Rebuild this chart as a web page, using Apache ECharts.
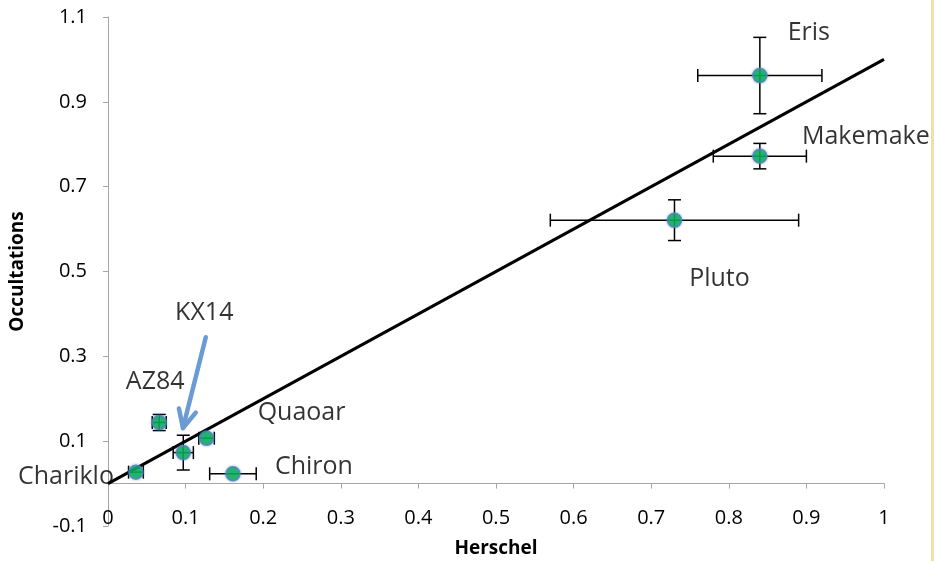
<!DOCTYPE html>
<html>
<head>
<meta charset="utf-8">
<script src="https://cdn.jsdelivr.net/npm/echarts@6/dist/echarts.min.js"></script>
<style>
  html, body { margin: 0; padding: 0; background: #fff; }
  #chart { width: 934px; height: 561px; }
</style>
</head>
<body>
<div id="chart"></div>
<script>
// Albedo comparison: Herschel thermal vs. stellar occultation results
const names = ['Eris', 'Makemake', 'Pluto', 'Chariklo', 'AZ84', 'KX14', 'Quaoar', 'Chiron'];
const herschel = [0.84, 0.84, 0.73, 0.036, 0.066, 0.097, 0.127, 0.161];
const occultations = [0.962, 0.772, 0.621, 0.027, 0.144, 0.073, 0.107, 0.023];
const herschelErr = [0.08, 0.06, 0.16, 0.0095, 0.009, 0.013, 0.01, 0.03];
const occultationsErr = [0.09, 0.03, 0.048, 0, 0.019, 0.041, 0, 0];

// one-to-one reference line
const fitX = [0, 1];
const fitY = [0, 1];

// pointer toward KX14
const arrowFrom = [0.126, 0.345];
const arrowTo = [0.0966, 0.131];

const xTicks = [0, 0.1, 0.2, 0.3, 0.4, 0.5, 0.6, 0.7, 0.8, 0.9, 1];
const yTicks = [-0.1, 0.1, 0.3, 0.5, 0.7, 0.9, 1.1];

// where each name sits relative to its marker, in pixels
const labelOffsets = {
  Eris: [49, -43],
  Makemake: [106, -19],
  Pluto: [45, 59],
  Chariklo: [-70, 5],
  AZ84: [-4, -41],
  KX14: [21, -140],
  Quaoar: [95, -25],
  Chiron: [81, -7]
};

const FONT = 'Open Sans';

// plot area
const GRID = { left: 108, right: 50, top: 17, bottom: 35 };
const Y_MIN = -0.1, Y_MAX = 1.1;
// lift the horizontal axis from the plot floor up to the y = 0 level
const plotHeight = 561 - GRID.top - GRID.bottom;
const xAxisLift = -plotHeight * (0 - Y_MIN) / (Y_MAX - Y_MIN);

function renderErrorBar(params, api) {
  const x = api.value(0), y = api.value(1);
  const ex = api.value(2), ey = api.value(3);
  const c = api.coord([x, y]);
  const cap = 6.5;
  const style = { stroke: '#000', lineWidth: 1.5 };
  const children = [];
  if (ex > 0) {
    const l = api.coord([x - ex, y])[0];
    const r = api.coord([x + ex, y])[0];
    children.push({ type: 'line', shape: { x1: l, y1: c[1], x2: r, y2: c[1] }, style });
    children.push({ type: 'line', shape: { x1: l, y1: c[1] - cap, x2: l, y2: c[1] + cap }, style });
    children.push({ type: 'line', shape: { x1: r, y1: c[1] - cap, x2: r, y2: c[1] + cap }, style });
  }
  if (ey > 0) {
    const t = api.coord([x, y + ey])[1];
    const b = api.coord([x, y - ey])[1];
    children.push({ type: 'line', shape: { x1: c[0], y1: t, x2: c[0], y2: b }, style });
    children.push({ type: 'line', shape: { x1: c[0] - cap, y1: t, x2: c[0] + cap, y2: t }, style });
    children.push({ type: 'line', shape: { x1: c[0] - cap, y1: b, x2: c[0] + cap, y2: b }, style });
  }
  return { type: 'group', children };
}

function renderArrow(params, api) {
  const p0 = api.coord([api.value(0), api.value(1)]);
  const p1 = api.coord([api.value(2), api.value(3)]);
  const ang = Math.atan2(p0[1] - p1[1], p0[0] - p1[0]);
  const len = 20, spread = 0.45;
  const a1 = [p1[0] + len * Math.cos(ang + spread), p1[1] + len * Math.sin(ang + spread)];
  const a2 = [p1[0] + len * Math.cos(ang - spread), p1[1] + len * Math.sin(ang - spread)];
  const style = { stroke: '#6a9bd3', lineWidth: 4.5, lineCap: 'round', lineJoin: 'round', fill: null };
  return {
    type: 'group',
    children: [
      { type: 'line', shape: { x1: p0[0], y1: p0[1], x2: p1[0], y2: p1[1] }, style },
      { type: 'polyline', shape: { points: [a1, p1, a2] }, style }
    ]
  };
}

const chart = echarts.init(document.getElementById('chart'), null, { renderer: 'canvas' });

chart.setOption({
  animation: false,
  backgroundColor: '#fff',
  grid: Object.assign({ containLabel: false, outerBoundsMode: 'none' }, GRID),
  xAxis: {
    type: 'value',
    min: 0,
    max: 1,
    interval: 0.1,
    offset: xAxisLift,
    name: 'Herschel',
    nameLocation: 'middle',
    nameGap: 56,
    nameTextStyle: { fontFamily: FONT, fontWeight: 'bold', fontSize: 19, color: '#000' },
    axisLine: { show: true, onZero: false, lineStyle: { color: '#a6a6a6', width: 1 } },
    axisTick: { show: true, length: 5, lineStyle: { color: '#a6a6a6' }, customValues: xTicks },
    axisLabel: {
      margin: 25,
      fontFamily: FONT,
      fontSize: 20,
      color: '#000',
      customValues: xTicks,
      formatter: v => String(+v.toFixed(1))
    },
    splitLine: { show: false }
  },
  yAxis: {
    type: 'value',
    min: Y_MIN,
    max: Y_MAX,
    name: 'Occultations',
    nameLocation: 'middle',
    nameGap: 81,
    nameRotate: 90,
    nameTextStyle: { fontFamily: FONT, fontWeight: 'bold', fontSize: 19, color: '#000' },
    axisLine: { show: true, onZero: false, lineStyle: { color: '#a6a6a6', width: 1 } },
    axisTick: { show: true, length: 5, lineStyle: { color: '#a6a6a6' }, customValues: yTicks },
    axisLabel: {
      margin: 21,
      fontFamily: FONT,
      fontSize: 20,
      color: '#000',
      customValues: yTicks,
      formatter: v => v.toFixed(1)
    },
    splitLine: { show: false }
  },
  graphic: [
    { type: 'rect', shape: { x: 931, y: 0, width: 3, height: 561 }, style: { fill: '#f4dea4' }, z: 100 }
  ],
  series: [
    {
      type: 'line',
      data: fitX.map((x, i) => [x, fitY[i]]),
      symbol: 'none',
      lineStyle: { color: '#000', width: 3 },
      z: 2,
      silent: true
    },
    {
      type: 'custom',
      renderItem: renderErrorBar,
      encode: { x: 0, y: 1 },
      data: herschel.map((x, i) => [x, occultations[i], herschelErr[i], occultationsErr[i]]),
      z: 3,
      silent: true
    },
    {
      type: 'scatter',
      symbol: 'circle',
      symbolSize: 14,
      itemStyle: {
        color: '#00b050',
        borderColor: '#4f81bd',
        borderWidth: 1.5,
        shadowBlur: 3,
        shadowColor: 'rgba(79,129,189,0.6)'
      },
      label: {
        show: true,
        position: 'inside',
        formatter: '{b}',
        fontFamily: FONT,
        fontSize: 25,
        color: '#000'
      },
      data: herschel.map((x, i) => ({
        name: names[i],
        value: [x, occultations[i]],
        label: { offset: labelOffsets[names[i]] }
      })),
      z: 4
    },
    {
      type: 'custom',
      renderItem: renderArrow,
      encode: { x: [0, 2], y: [1, 3] },
      data: [[arrowFrom[0], arrowFrom[1], arrowTo[0], arrowTo[1]]],
      z: 5,
      silent: true
    }
  ]
});
</script>
</body>
</html>
